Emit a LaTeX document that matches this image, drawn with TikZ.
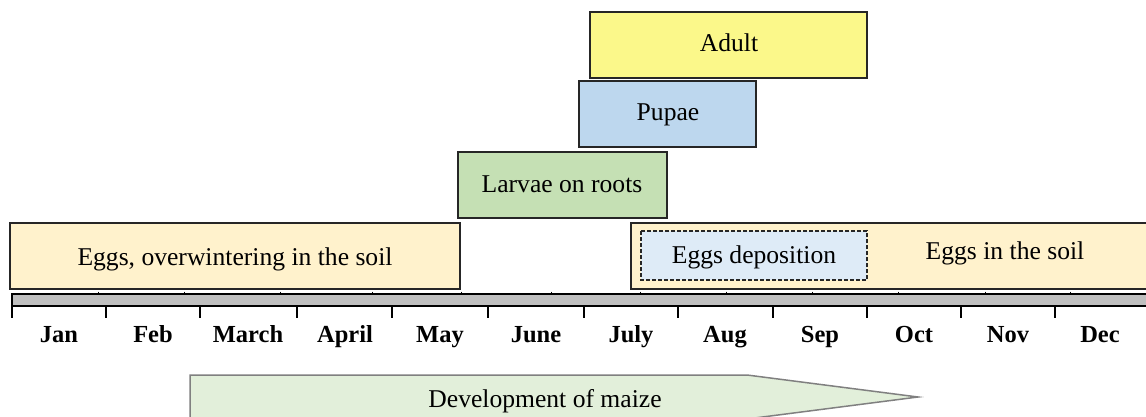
\documentclass[tikz,border=0pt]{standalone}
\usepackage{fontspec}
\setmainfont{Liberation Serif}
\definecolor{cadult}{HTML}{FBF88A}
\definecolor{cpupae}{HTML}{BDD7EE}
\definecolor{clarvae}{HTML}{C5E0B4}
\definecolor{ceggs}{HTML}{FFF2CC}
\definecolor{cdepo}{HTML}{DEEBF7}
\definecolor{cmaize}{HTML}{E2EFDA}
\definecolor{cbar}{HTML}{BFBFBF}
\definecolor{cedge}{HTML}{262626}
\tikzset{
  stagebox/.style={draw=cedge, line width=1.5pt},
  lbl/.style={font=\fontsize{25.6}{30}\selectfont, inner sep=0pt, anchor=base},
  monthlbl/.style={font=\fontsize{24.5}{28}\selectfont\bfseries, inner sep=0pt, anchor=base},
  tickline/.style={draw=black, line width=1.2pt},
}
\begin{document}
\begin{tikzpicture}[x=1pt,y=-1pt]
\useasboundingbox (0,0) rectangle (1146,417);
\clip (0,0) rectangle (1146,417);
% stage boxes
\draw[stagebox, fill=cadult] (590,12) rectangle (867,78);
\node[lbl] (adult) at (729,52) {Adult};
\draw[stagebox, fill=cpupae] (579,81) rectangle (756,147);
\node[lbl] (pupae) at (668,121) {Pupae};
\draw[stagebox, fill=clarvae] (458,152) rectangle (667,218);
\node[lbl] (larvae) at (562,192) {Larvae on roots};
\draw[stagebox, fill=ceggs] (10,223) rectangle (460,289);
\node[lbl] (eggsw) at (235,265) {Eggs, overwintering in the soil};
\draw[stagebox, fill=ceggs] (631,223) rectangle (1160,289);
\node[lbl] (eggss) at (1005,259) {Eggs in the soil};
\draw[stagebox, fill=cdepo, dashed, dash pattern=on 4pt off 2pt] (641,231) rectangle (867,280);
\node[lbl] (depo) at (754,263) {Eggs deposition};
% time bar
\fill[cbar] (12,294) rectangle (1160,306);
\draw[tickline] (1160,294) -- (12,294) -- (12,306) -- (1160,306);
\foreach \x in {98,184,280,372,461,551,640,726,812,898,985,1070}
  \draw[line width=1pt] (\x,291.5) -- (\x,294);
\foreach \x in {12,106,200,297,392,488,584,678,773,867,961,1055}
  \draw[tickline] (\x,306) -- (\x,318);
% month labels
\node[monthlbl] (m1) at (59,342) {Jan};
\node[monthlbl] (m2) at (153,342) {Feb};
\node[monthlbl] (m3) at (248,342) {March};
\node[monthlbl] (m4) at (345,342) {April};
\node[monthlbl] (m5) at (440,342) {May};
\node[monthlbl] (m6) at (536,342) {June};
\node[monthlbl] (m7) at (631,342) {July};
\node[monthlbl] (m8) at (725,342) {Aug};
\node[monthlbl] (m9) at (820,342) {Sep};
\node[monthlbl] (m10) at (914,342) {Oct};
\node[monthlbl] (m11) at (1008,342) {Nov};
\node[monthlbl] (m12) at (1100,342) {Dec};
% maize arrow
\draw[draw=gray, line width=1.5pt, fill=cmaize] (190,375) -- (747,375) -- (918,397) -- (747,419) -- (190,419) -- cycle;
\node[lbl] (maize) at (545,407) {Development of maize};
\end{tikzpicture}
\end{document}
